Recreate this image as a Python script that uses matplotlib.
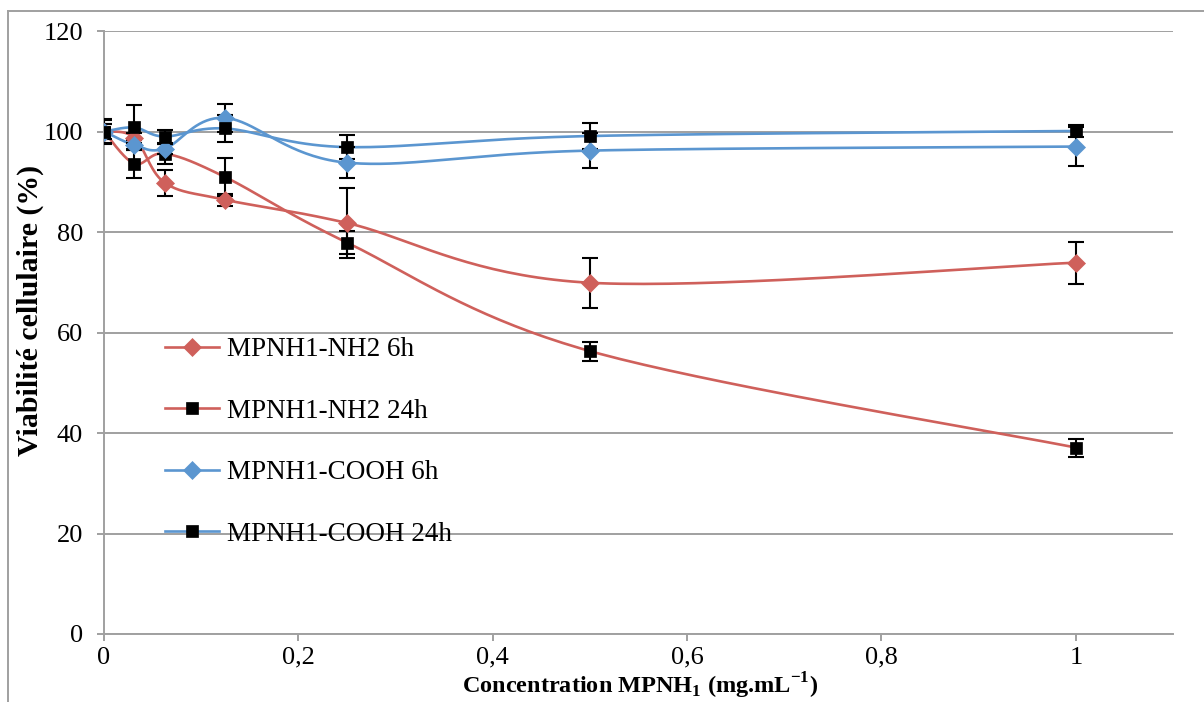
import numpy as np
import matplotlib
matplotlib.use("Agg")
import matplotlib.pyplot as plt
from matplotlib.lines import Line2D

plt.rcParams['font.family'] = ['Liberation Serif', 'DejaVu Serif']
plt.rcParams['mathtext.fontset'] = 'custom'
plt.rcParams['mathtext.rm'] = 'Liberation Serif'
plt.rcParams['mathtext.bf'] = 'Liberation Serif:bold'

# ---- data ----
conc = [0, 0.03125, 0.0625, 0.125, 0.25, 0.5, 1]
nh2_6h = [100, 98.8, 89.8, 86.4, 81.8, 69.9, 73.9]
nh2_6h_err = [1.5, 1.0, 2.6, 1.2, 6.9, 5.0, 4.2]
nh2_24h = [100, 93.6, 95.6, 90.9, 77.9, 56.3, 37.1]
nh2_24h_err = [2.2, 2.9, 2.0, 3.8, 2.2, 1.9, 1.8]
cooh_6h = [100, 97.3, 96.6, 102.7, 93.8, 96.2, 97.0]
cooh_6h_err = [1.5, 1.0, 1.0, 2.7, 3.1, 3.5, 3.9]
cooh_24h = [100, 100.8, 99.0, 100.6, 96.9, 99.1, 100.1]
cooh_24h_err = [2.4, 4.4, 1.3, 2.7, 2.4, 2.5, 1.2]
labels = ["MPNH1-NH2 6h", "MPNH1-NH2 24h", "MPNH1-COOH 6h", "MPNH1-COOH 24h"]
yticks = [0, 20, 40, 60, 80, 100, 120]
xticks = [0, 0.2, 0.4, 0.6, 0.8, 1]
xticklabels = ["0", "0,2", "0,4", "0,6", "0,8", "1"]

RED = '#CF605B'
BLUE = '#5B96D0'
GRID = '#A0A0A0'


def smooth(x, y, n=40):
    pts = np.column_stack([x, y]).astype(float)
    P = np.vstack([pts[0], pts, pts[-1]])
    out = []
    t = np.linspace(0, 1, n)[:, None]
    for i in range(len(pts) - 1):
        p0, p1, p2, p3 = P[i], P[i + 1], P[i + 2], P[i + 3]
        c1 = p1 + (p2 - p0) / 6.0
        c2 = p2 - (p3 - p1) / 6.0
        seg = (1 - t) ** 3 * p1 + 3 * (1 - t) ** 2 * t * c1 + 3 * (1 - t) * t ** 2 * c2 + t ** 3 * p2
        out.append(seg if i == 0 else seg[1:])
    s = np.vstack(out)
    return s[:, 0], s[:, 1]


fig = plt.figure(figsize=(12.04, 7.02), dpi=100)
ax = fig.add_axes([104 / 1204, 1 - 634 / 702, (1173 - 104) / 1204, (634 - 31) / 702])

D_MS = 9.0
S_MS = 8.5
series = [
    (nh2_6h, nh2_6h_err, RED, 'D', RED),
    (nh2_24h, nh2_24h_err, RED, 's', 'black'),
    (cooh_6h, cooh_6h_err, BLUE, 'D', BLUE),
    (cooh_24h, cooh_24h_err, BLUE, 's', 'black'),
]

for i, (vals, err, lc, m, mc) in enumerate(series):
    sx, sy = smooth(conc, vals)
    ax.plot(sx, sy, color=lc, lw=1.9, zorder=3 + i * 0.1, solid_capstyle='round')

for i, (vals, err, lc, m, mc) in enumerate(series):
    ax.errorbar(conc, vals, yerr=err, fmt='none', ecolor='black', elinewidth=1.5,
                capsize=5.5, capthick=1.5, zorder=4 + i * 0.1)

for i, (vals, err, lc, m, mc) in enumerate(series):
    ms = D_MS if m == 'D' else S_MS
    ax.plot(conc, vals, linestyle='none', marker=m, markersize=ms,
            markerfacecolor=mc, markeredgecolor=mc, markeredgewidth=0.5, zorder=5 + i * 0.1)

ax.set_xlim(0, 1.1)
ax.set_ylim(0, 120)
ax.set_yticks(yticks)
ax.set_xticks(xticks)
ax.set_xticklabels(xticklabels)
ax.tick_params(axis='both', labelsize=19, color=GRID, width=1.4, length=5, direction='out')
ax.tick_params(axis='y', pad=10)
ax.tick_params(axis='x', pad=4)
ax.grid(axis='y', color=GRID, lw=1.4)
ax.set_axisbelow(True)
for s in ['top', 'right']:
    ax.spines[s].set_visible(False)
for s in ['left', 'bottom']:
    ax.spines[s].set_color(GRID)
    ax.spines[s].set_linewidth(1.4)

ax.set_ylabel("Viabilité cellulaire (%)", fontsize=21.5, fontweight='bold')
ax.yaxis.set_label_coords((30 - 104) / 1069, (634 - 310) / 603)
ax.yaxis.label.set_va('center')
ax.set_xlabel(r"Concentration MPNH$_{\mathbf{1}}$ (mg.mL$^{\mathbf{-1}}$)", fontsize=17.5, fontweight='bold')
ax.xaxis.set_label_coords((640 - 104) / 1069, -(701 - 634) / 603)
ax.xaxis.label.set_va('bottom')

handles = []
for (vals, err, lc, m, mc) in series:
    ms = D_MS if m == 'D' else S_MS
    handles.append(Line2D([], [], color=lc, lw=1.9, marker=m, markersize=ms,
                          markerfacecolor=mc, markeredgecolor=mc, markeredgewidth=0.5))
leg = ax.legend(handles, labels, loc='upper left', bbox_to_anchor=((165 - 104) / 1069, (634 - 337) / 603),
                frameon=False, fontsize=19.5, handlelength=2.0, handletextpad=0.3,
                labelspacing=1.35, borderpad=0, borderaxespad=0)

# outer chart frame
fig.add_artist(Line2D([8 / 1204, 1], [1 - 11 / 702, 1 - 11 / 702], color=GRID, lw=1.4, transform=fig.transFigure))
fig.add_artist(Line2D([8 / 1204, 8 / 1204], [0, 1 - 11 / 702], color=GRID, lw=1.4, transform=fig.transFigure))

fig.savefig("out.png", dpi=100)
